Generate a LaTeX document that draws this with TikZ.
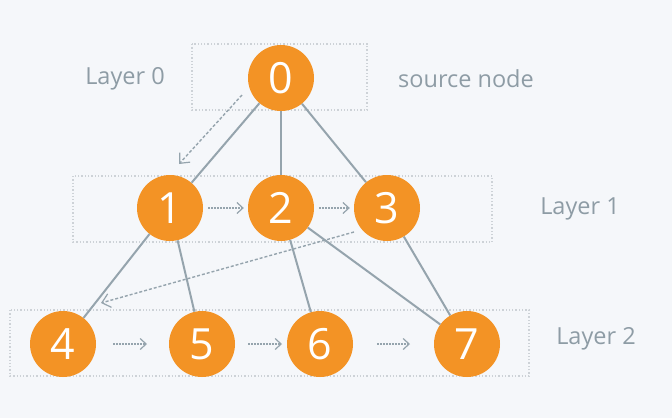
\documentclass[tikz,border=0pt]{standalone}
\usepackage{fontspec}
\setmainfont{Open Sans}
\usetikzlibrary{arrows.meta}
\definecolor{bg}{HTML}{F5F7FA}
\definecolor{org}{HTML}{F39325}
\definecolor{edge}{HTML}{95A4AD}
\definecolor{boxc}{HTML}{CDD2D7}
\definecolor{lbl}{HTML}{8E9CA5}
\tikzset{
  vnode/.style={circle,fill=org,minimum size=66pt,inner sep=0pt,text=white,font=\fontsize{43}{43}\selectfont},
  tree/.style={draw=edge,line width=2pt},
  layerbox/.style={draw=boxc,line width=1.3pt,dotted},
  lab/.style={text=lbl,font=\fontsize{23.5}{23.5}\selectfont},
  longarrow/.style={draw=edge,line width=1.4pt,dash pattern=on 3pt off 2pt,-{Straight Barb[length=8pt,width=14pt,line width=1.2pt]}},
  shortarrow/.style={draw=edge,line width=1.4pt,dash pattern=on 1.5pt off 1.5pt,-{Straight Barb[length=6pt,width=11pt,line width=1.2pt]}}
}
\begin{document}
\begin{tikzpicture}[x=1pt,y=-1pt]
\fill[bg] (0,0) rectangle (672,418);
\useasboundingbox (0,0) rectangle (672,418);
% layer boxes
\draw[layerbox] (192,44) rectangle (367,110);
\draw[layerbox] (73,176) rectangle (492,242);
\draw[layerbox] (10,310) rectangle (529,376);
% nodes
\node[vnode] (n0) at (281,78) {0};
\node[vnode] (n1) at (170,208) {1};
\node[vnode] (n2) at (281,208) {2};
\node[vnode] (n3) at (387,208) {3};
\node[vnode] (n4) at (63,344) {4};
\node[vnode] (n5) at (202,344) {5};
\node[vnode] (n6) at (320,344) {6};
\node[vnode] (n7) at (467,344) {7};
% tree edges
\draw[tree] (n0) -- (n1);
\draw[tree] (n0) -- (n2);
\draw[tree] (n0) -- (n3);
\draw[tree] (n1) -- (n4);
\draw[tree] (n1) -- (n5);
\draw[tree] (n2) -- (n6);
\draw[tree] (n2) -- (n7);
\draw[tree] (n3) -- (n7);
% labels
\node[lab] (l0) at (125,79) {Layer 0};
\node[lab] (src) at (466,79) {source node};
\node[lab] (l1) at (580,209) {Layer 1};
\node[lab] (l2) at (596,339) {Layer 2};
% traversal arrows
\coordinate (a0s) at (242,95);
\coordinate (a0e) at (179,164);
\draw[longarrow] (a0s) -- (a0e);
\coordinate (a3s) at (354,232);
\coordinate (a3e) at (101,303);
\draw[longarrow] (a3s) -- (a3e);
\draw[shortarrow] ([xshift=5pt]n1.east) -- ([xshift=-4pt]n2.west);
\draw[shortarrow] ([xshift=5pt]n2.east) -- ([xshift=-4pt]n3.west);
\coordinate (b4s) at (113,344);
\coordinate (b4e) at (147,344);
\draw[shortarrow] (b4s) -- (b4e);
\coordinate (b5s) at (248,344);
\coordinate (b5e) at (282,344);
\draw[shortarrow] (b5s) -- (b5e);
\coordinate (b6s) at (377,344);
\coordinate (b6e) at (410,344);
\draw[shortarrow] (b6s) -- (b6e);
\end{tikzpicture}
\end{document}
